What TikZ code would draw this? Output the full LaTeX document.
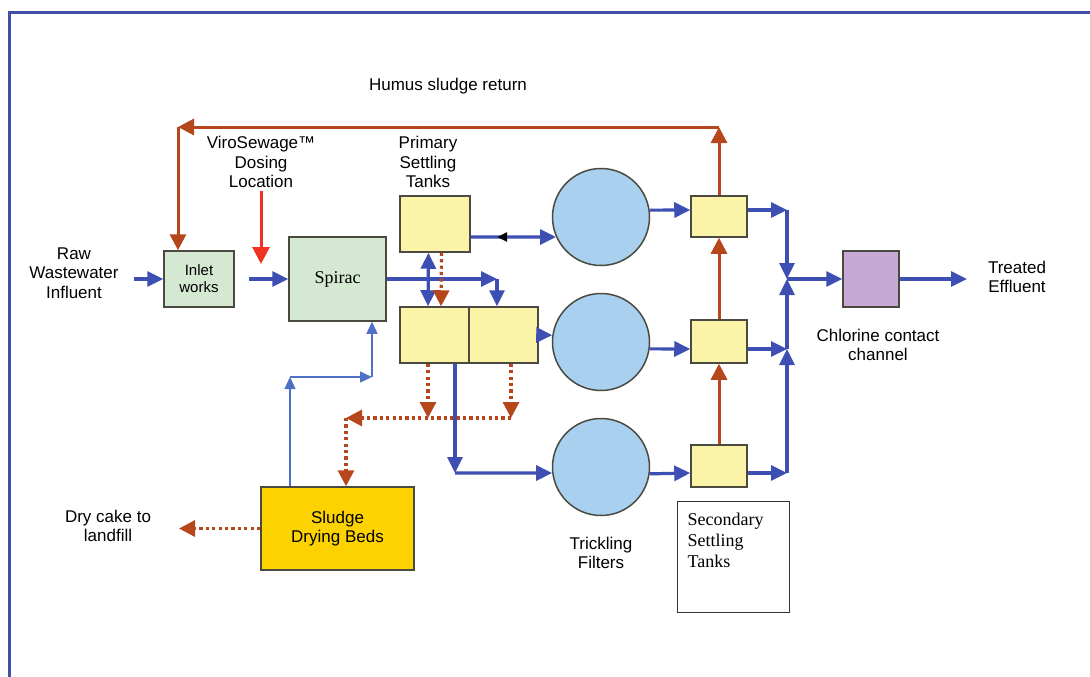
\documentclass[tikz,border=0pt]{standalone}
\usepackage{fontspec}
\setmainfont{Liberation Serif}
\setsansfont{Liberation Sans}
\usepackage{tikz}
\usetikzlibrary{positioning,arrows.meta,calc,decorations.markings}
\definecolor{pipeblue}{HTML}{3D4FB3}
\definecolor{frameblue}{HTML}{4350A8}
\definecolor{sludgebrown}{HTML}{B6461C}
\definecolor{dosered}{HTML}{EE3322}
\definecolor{thinblue}{HTML}{4F70C8}
\definecolor{inletgreen}{HTML}{D5E8D2}
\definecolor{tankyellow}{HTML}{FAF3A8}
\definecolor{filterblue}{HTML}{A9D1EF}
\definecolor{chlorlilac}{HTML}{C8A8D4}
\definecolor{bedgold}{HTML}{FCD200}
\definecolor{edgegray}{HTML}{4A4A40}

\begin{document}
\begin{tikzpicture}[
  x=1pt, y=-1pt,
  font=\sffamily\fontsize{17}{19.5}\selectfont,
  unit/.style={draw=edgegray, line width=1.5pt, align=center, inner sep=0pt},
  greenbox/.style={unit, fill=inletgreen},
  tank/.style={unit, fill=tankyellow},
  filter/.style={unit, circle, fill=filterblue, minimum size=97pt},
  lbl/.style={align=center},
  flow/.style={-{Triangle[length=16pt,width=15pt]}, line width=3.2pt, color=pipeblue},
  flowboth/.style={flow, {Triangle[length=16pt,width=15pt]}-{Triangle[length=16pt,width=15pt]}},
  ret/.style={-{Triangle[length=16pt,width=16pt]}, line width=3pt, color=sludgebrown},
  drain/.style={ret, line width=3.2pt, dash pattern=on 3.2pt off 3.2pt},
  doseline/.style={-{Triangle[length=17pt,width=17pt]}, line width=3pt, color=dosered},
  feed/.style={-{Triangle[length=12pt,width=11pt]}, line width=1.3pt, color=thinblue},
]
  \useasboundingbox (0,0) rectangle (1090,677);
  \draw[frameblue, line width=3pt] (9,677) -- (9,13) -- (1090,13);

  \node[greenbox, minimum width=70pt, minimum height=56pt,
        font=\sffamily\fontsize{15}{17}\selectfont] (inlet) at (199,279) {Inlet\\works};
  \node[greenbox, minimum width=97pt, minimum height=84pt,
        font=\rmfamily\fontsize{18}{20}\selectfont] (spirac) at (337.5,279) {Spirac};
  \node[tank, minimum width=70pt, minimum height=56pt] (pst1)  at (435,224) {};
  \node[tank, minimum width=69pt, minimum height=56pt] (pst2a) at (434.5,335) {};
  \node[tank, minimum width=69pt, minimum height=56pt] (pst2b) at (503.5,335) {};
  \node[filter] (tf1) at (601,217) {};
  \node[filter] (tf2) at (601,342) {};
  \node[filter] (tf3) at (601,467) {};
  \node[tank, minimum width=56pt, minimum height=41pt] (sst1) at (719,216.5) {};
  \node[tank, minimum width=56pt, minimum height=43pt] (sst2) at (719,341.5) {};
  \node[tank, minimum width=56pt, minimum height=42pt] (sst3) at (719,466) {};
  \node[unit, fill=chlorlilac, minimum width=56pt, minimum height=56pt] (chlor) at (871,279) {};
  \node[unit, fill=bedgold, minimum width=153pt, minimum height=83pt] (beds) at (337.5,528.5) {Sludge\\Drying Beds};
  \node[draw=black!80, line width=1pt, minimum width=112pt, minimum height=111pt] (sstbox) at (733,556.5) {};
  \node[anchor=north west, align=left, inner sep=2pt, font=\rmfamily\fontsize{18}{21}\selectfont]
       (ssttext) at ([shift={(9pt,-10pt)}]sstbox.north west) {Secondary\\Settling\\Tanks};

  \node[lbl] (raw)      at (74,273)   {Raw\\Wastewater\\Influent};
  \node[lbl] (viro)     at (261,162)  {ViroSewage™\\Dosing\\Location};
  \node[lbl] (humus)    at (448,86)   {Humus sludge return};
  \node[lbl] (prim)     at (428,162)  {Primary\\Settling\\Tanks};
  \node[lbl] (tflbl)    at (601,553)  {Trickling\\Filters};
  \node[lbl] (chlorlbl) at (878,345)  {Chlorine contact\\channel};
  \node[lbl] (treated)  at (1017,277) {Treated\\Effluent};
  \node[lbl] (drycake)  at (108,526)  {Dry cake to\\landfill};

  \coordinate (dose)  at (261,264);
  \coordinate (split) at (497,279);
  \coordinate (topR)  at (719,127);
  \coordinate (topL)  at (178,127);
  \coordinate (sumR)  at (511,418);
  \coordinate (sumL)  at (346,418);
  \coordinate (feedL) at (290,377);
  \coordinate (feedR) at (372,377);
  \coordinate (c3)    at (455,473);
  \coordinate (col1)  at (787,210);
  \coordinate (col2)  at (787,349);
  \coordinate (col3)  at (787,473);
  \coordinate (colJ)  at (787,279);
  \coordinate (eff)   at (967,279);
  \coordinate (cake)  at (179,528.5);

  \draw[flow, shorten <=12pt] (raw.east |- inlet) -- (inlet);
  \draw[flow, shorten <=14pt] (inlet) -- (spirac);
  \draw[doseline] (viro) -- (dose);
  \draw[flow] (spirac.east) -- (split);
  \draw[flow] (split) -- (split |- pst2b.north);
  \draw[flowboth] ([xshift=-6.5pt]pst1.south) -- ([xshift=-6.5pt]pst2a.north);
  \draw[drain] ([xshift=6.5pt]pst1.south) -- ([xshift=6.5pt]pst2a.north);
  \draw[flow, postaction=decorate, decoration={markings,
        mark=at position 0.31 with {\arrowreversed[black]{Triangle[length=10pt,width=9pt]}}}]
       ([yshift=-13pt]pst1.east) -- (tf1.204);
  \draw[flow] (pst2b.east) -- (tf2.172);
  \draw[flow] ([xshift=20.5pt]pst2a.south) -- (c3);
  \draw[flow] (c3) -- (tf3.187);

  \draw[drain] ([xshift=-6.5pt]pst2a.south) -- ([xshift=-6.5pt]pst2a.south |- sumR);
  \draw[drain] ([xshift=7.5pt]pst2b.south) -- (sumR);
  \draw[drain] (sumR) -- (sumL);
  \draw[drain] (sumL) -- (sumL |- beds.north);
  \draw[drain] (beds.west) -- (cake);

  \draw[feed] (beds.north -| feedL) -- (feedL);
  \draw[feed] (feedL) -- (feedR);
  \draw[feed] (feedR) -- (feedR |- spirac.south);

  \draw[flow] (tf1.8) -- ([yshift=6.5pt]sst1.west);
  \draw[flow] (tf2.352) -- ([yshift=-7.5pt]sst2.west);
  \draw[flow] (tf3.352) -- ([yshift=-7pt]sst3.west);
  \draw[flow] ([yshift=6.5pt]sst1.east) -- (col1);
  \draw[flow] ([yshift=-7.5pt]sst2.east) -- (col2);
  \draw[flow] ([yshift=-7pt]sst3.east) -- (col3);
  \draw[flow] (col1) -- (colJ);
  \draw[flow] (col3) -- (col2);
  \draw[flow] (col2) -- (colJ);
  \draw[flow] (colJ) -- (chlor);
  \draw[flow] (chlor) -- (eff);

  \draw[ret] (sst3) -- (sst2);
  \draw[ret] (sst2) -- (sst1);
  \draw[ret] (sst1.north) -- (topR);
  \draw[ret] (topR) -- (topL);
  \draw[ret] (topL) -- (topL |- inlet.north);
\end{tikzpicture}
\end{document}
